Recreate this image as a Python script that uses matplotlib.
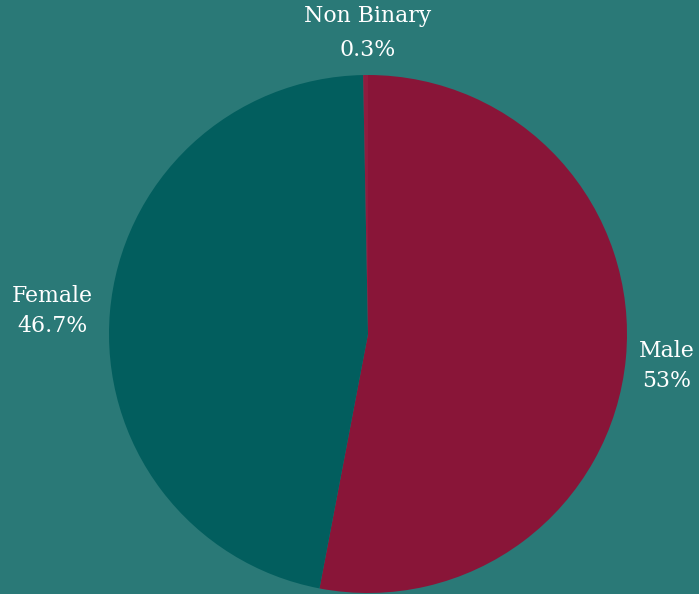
import matplotlib.pyplot as plt

labels = ['Male', 'Female', 'Non Binary']
shares = [53.0, 46.7, 0.3]
share_text = ['53%', '46.7%', '0.3%']
colors = ['#891538', '#025e5e', '#8f1c3f']
bg = '#2a7977'

fig = plt.figure(figsize=(6.99, 5.94), dpi=100)
fig.patch.set_facecolor(bg)
ax = fig.add_axes([0, 0, 1, 1])
ax.set_facecolor(bg)

ax.pie(shares, colors=colors, startangle=90, counterclock=False,
       center=(368, 260), radius=259, frame=True,
       wedgeprops=dict(linewidth=0))
ax.set_xlim(0, 699)
ax.set_ylim(0, 594)
ax.set_aspect('equal')
ax.axis('off')

# label centre positions and spacing between the two lines
label_pos = [(667, 228), (52, 283), (368, 561)]
spacing = [1.42, 1.42, 1.65]
for name, txt, (x, y), ls in zip(labels, share_text, label_pos, spacing):
    ax.text(x, y, f'{name}\n{txt}', ha='center', va='center',
            color='white', fontsize=15.8, family='DejaVu Serif',
            linespacing=ls)

fig.savefig('out.png', dpi=100, facecolor=bg)
